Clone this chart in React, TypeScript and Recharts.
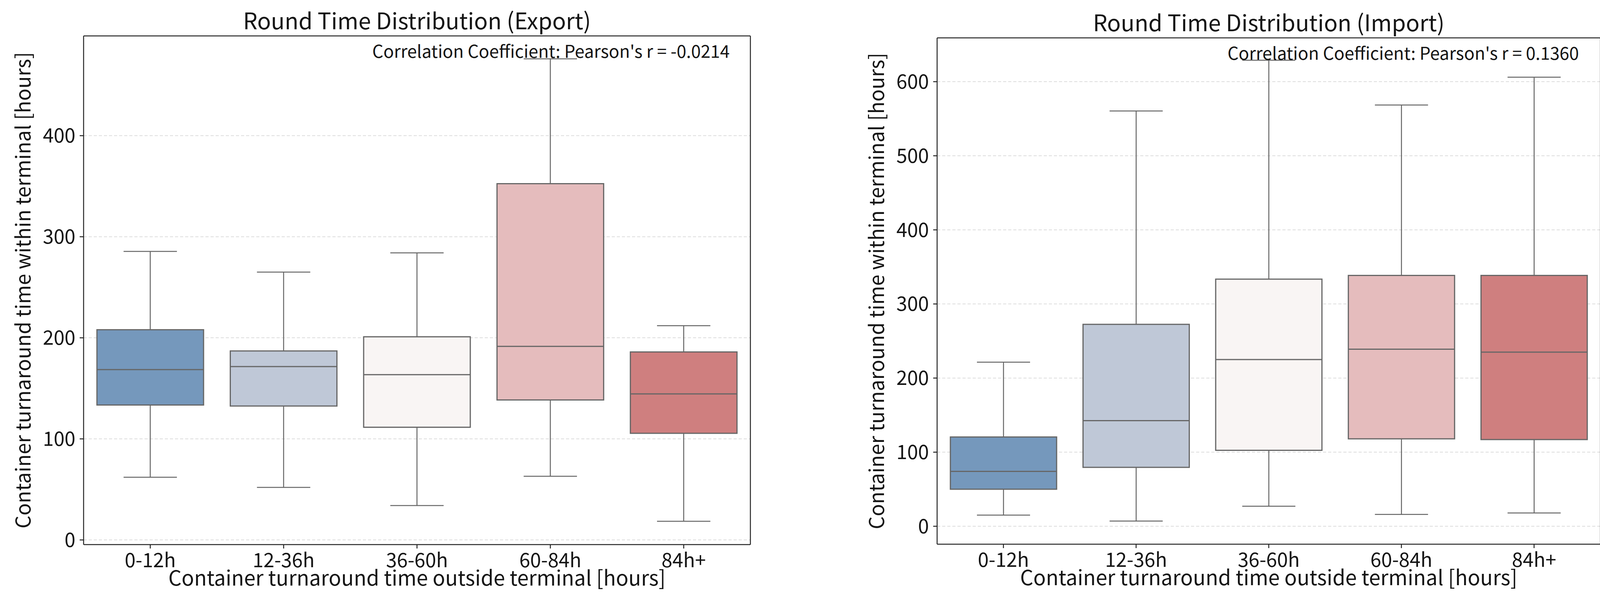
import { Bar, CartesianGrid, ComposedChart, Line, XAxis, YAxis } from "recharts";

const categories = ["0-12h", "12-36h", "36-60h", "60-84h", "84h+"];
const boxColors = ["#7598bc", "#bfc8d7", "#f9f5f4", "#e5bcbd", "#cf7f7f"];

// Export: whisker low, Q1, median, Q3, whisker high
const exportLow = [62, 52, 34, 63, 18.5];
const exportQ1 = [133.5, 132.5, 111.5, 138.5, 105.5];
const exportMedian = [168.5, 171.5, 163.5, 191.5, 144.5];
const exportQ3 = [208, 187, 201, 352.5, 186];
const exportHigh = [285.5, 265, 284, 476, 212];
const exportTicks = [0, 100, 200, 300, 400];
const exportDomain = [-4.6, 498.7];

// Import
const importLow = [15, 7, 27, 16, 18];
const importQ1 = [50, 79.5, 102.5, 118, 117];
const importMedian = [74, 142.5, 225, 239, 235];
const importQ3 = [120.5, 272.5, 333.5, 338.5, 338.5];
const importHigh = [221.5, 560.5, 629, 568.5, 606];
const importTicks = [0, 100, 200, 300, 400, 500, 600];
const importDomain = [-24.2, 659.1];

const FONT = "'Noto Sans CJK JP', 'Noto Sans', sans-serif";
const INK = "#141414";
const SPINE = "#262626";
const LINE = "#666666";

type Row = { cat: string; lo: number; q1: number; med: number; q3: number; hi: number };

const buildRows = (lo: number[], q1: number[], med: number[], q3: number[], hi: number[]): Row[] =>
  categories.map((cat, i) => ({ cat, lo: lo[i], q1: q1[i], med: med[i], q3: q3[i], hi: hi[i] }));

function BoxShape(props: any) {
  const { x, y, width, height, payload } = props;
  if (!payload) return null;
  const top = Math.min(y, y + height);
  const bottom = Math.max(y, y + height);
  const perUnit = (bottom - top) / (payload.hi - payload.lo);
  const py = (v: number) => bottom - (v - payload.lo) * perUnit;
  const cx = x + width / 2;
  const capHalf = width / 4;
  const fill = boxColors[categories.indexOf(payload.cat)];
  return (
    <g>
      <line x1={cx} x2={cx} y1={py(payload.hi)} y2={py(payload.q3)} stroke={LINE} strokeWidth={2.5} />
      <line x1={cx} x2={cx} y1={py(payload.q1)} y2={py(payload.lo)} stroke={LINE} strokeWidth={2.5} />
      <line x1={cx - capHalf} x2={cx + capHalf} y1={py(payload.hi)} y2={py(payload.hi)} stroke={LINE} strokeWidth={2.5} />
      <line x1={cx - capHalf} x2={cx + capHalf} y1={py(payload.lo)} y2={py(payload.lo)} stroke={LINE} strokeWidth={2.5} />
      <rect
        x={x}
        y={py(payload.q3)}
        width={width}
        height={py(payload.q1) - py(payload.q3)}
        fill={fill}
        stroke={LINE}
        strokeWidth={3}
      />
      <line x1={x} x2={x + width} y1={py(payload.med)} y2={py(payload.med)} stroke={LINE} strokeWidth={3} />
    </g>
  );
}

type PanelProps = {
  rows: Row[];
  title: string;
  note: string;
  ticks: number[];
  domain: number[];
  width: number;
  noteShift: number;
  margin: { top: number; right: number; bottom: number; left: number };
};

function BoxPanel({ rows, title, note, ticks, domain, width, noteShift, margin }: PanelProps) {
  return (
    <ComposedChart width={width} height={1560} data={rows} margin={margin} barCategoryGap="10%" style={{ fontFamily: FONT }}>
      <CartesianGrid vertical={false} stroke="#d2d2d2" strokeDasharray="8 5" strokeWidth={1.5} />
      <XAxis
        dataKey="cat"
        height={105}
        tickSize={10}
        tickMargin={12}
        axisLine={{ stroke: SPINE, strokeWidth: 2.5 }}
        tickLine={{ stroke: SPINE, strokeWidth: 2.5 }}
        tick={{ fontSize: 50, fill: INK, fontFamily: FONT }}
        label={{
          value: "Container turnaround time outside terminal [hours]",
          position: "insideBottom",
          offset: 0,
          fontSize: 53,
          fill: INK,
          fontFamily: FONT,
        }}
      />
      <XAxis
        xAxisId="top"
        orientation="top"
        dataKey="cat"
        height={1}
        tick={false}
        tickLine={false}
        axisLine={{ stroke: SPINE, strokeWidth: 2.5 }}
        label={{ value: title, position: "top", offset: 16, fontSize: 58, fill: INK, fontFamily: FONT }}
      />
      <YAxis
        type="number"
        domain={domain}
        ticks={ticks}
        allowDataOverflow
        width={174}
        tickSize={10}
        tickMargin={11}
        axisLine={{ stroke: SPINE, strokeWidth: 2.5 }}
        tickLine={{ stroke: SPINE, strokeWidth: 2.5 }}
        tick={{ fontSize: 50, fill: INK, fontFamily: FONT }}
        label={{
          value: "Container turnaround time within terminal [hours]",
          position: "insideLeft",
          angle: -90,
          offset: 20,
          fontSize: 52,
          fill: INK,
          fontFamily: FONT,
          style: { textAnchor: "middle" },
        }}
      />
      <YAxis
        yAxisId="right"
        orientation="right"
        type="number"
        domain={domain}
        allowDataOverflow
        width={1}
        tick={false}
        tickLine={false}
        axisLine={{ stroke: SPINE, strokeWidth: 2.5 }}
        label={{
          value: note,
          position: "insideTopRight",
          offset: 36,
          dx: noteShift,
          dy: -12,
          fontSize: 44.5,
          fill: INK,
          fontFamily: FONT,
        }}
      />
      <Bar
        dataKey={(d: Row) => [d.lo, d.hi]}
        shape={(p: any) => <BoxShape {...p} />}
        isAnimationActive={false}
      />
      {/* invisible series so the top and right frame axes get a scale */}
      <Line
        xAxisId="top"
        yAxisId="right"
        dataKey="med"
        stroke="none"
        dot={false}
        activeDot={false}
        legendType="none"
        isAnimationActive={false}
      />
    </ComposedChart>
  );
}

export default function App() {
  const exportRows = buildRows(exportLow, exportQ1, exportMedian, exportQ3, exportHigh);
  const importRows = buildRows(importLow, importQ1, importMedian, importQ3, importHigh);
  return (
    <div style={{ position: "absolute", left: 0, top: 0, width: 4141, height: 1560, background: "#fff" }}>
      <div style={{ position: "absolute", left: 0, top: 0 }}>
        <BoxPanel
          rows={exportRows}
          title="Round Time Distribution (Export)"
          note="Correlation Coefficient: Pearson's r = -0.0214"
          ticks={exportTicks}
          domain={exportDomain}
          width={2070}
          noteShift={-18}
          margin={{ top: 91, right: 148, bottom: 60, left: 40 }}
        />
      </div>
      <div style={{ position: "absolute", left: 2070, top: 0 }}>
        <BoxPanel
          rows={importRows}
          title="Round Time Distribution (Import)"
          note="Correlation Coefficient: Pearson's r = 0.1360"
          ticks={importTicks}
          domain={importDomain}
          width={2071}
          noteShift={-20}
          margin={{ top: 96, right: 43, bottom: 61, left: 155 }}
        />
      </div>
    </div>
  );
}
